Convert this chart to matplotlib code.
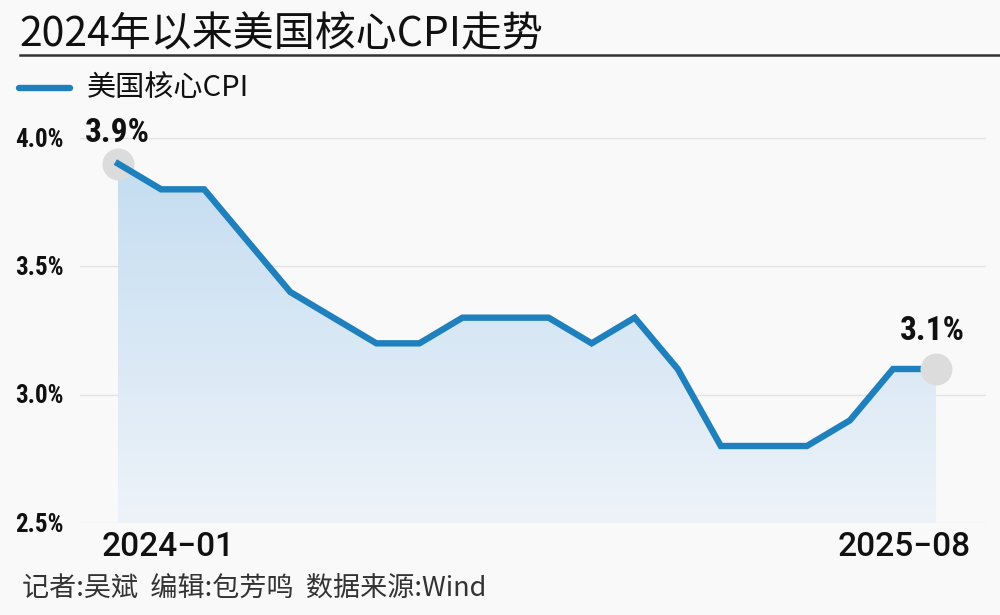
import matplotlib
matplotlib.use("Agg")
import matplotlib.pyplot as plt
import numpy as np
from matplotlib import font_manager as fm
from matplotlib.colors import LinearSegmentedColormap

months = ["2024-01", "2024-02", "2024-03", "2024-04", "2024-05", "2024-06", "2024-07",
          "2024-08", "2024-09", "2024-10", "2024-11", "2024-12", "2025-01", "2025-02",
          "2025-03", "2025-04", "2025-05", "2025-06", "2025-07", "2025-08"]
core_cpi = [3.9, 3.8, 3.8, 3.6, 3.4, 3.3, 3.2, 3.2, 3.3, 3.3, 3.3, 3.2, 3.3, 3.1,
            2.8, 2.8, 2.8, 2.9, 3.1, 3.1]
yticks = [2.5, 3.0, 3.5, 4.0]
ytick_labels = ["2.5%", "3.0%", "3.5%", "4.0%"]
title = "2024年以来美国核心CPI走势"
series_name = "美国核心CPI"
footer = "记者:吴斌  编辑:包芳鸣  数据来源:Wind"

names = {f.name for f in fm.fontManager.ttflist}
narrow = "Roboto"
for cand in ["Roboto Condensed", "Liberation Sans Narrow"]:
    if cand in names:
        narrow = cand
        break
CJK = ["Noto Sans CJK SC", "DejaVu Sans"]

BG = "#f9f9f9"
BLUE = "#1f80be"

fig = plt.figure(figsize=(10, 6.15), dpi=100, facecolor=BG)
ax = fig.add_axes([0.08, 1 - 523 / 615, 0.906, (523 - 138) / 615])
ax.set_facecolor(BG)

x = np.arange(len(core_cpi))
y = np.array(core_cpi)

# gridlines
for v in yticks:
    ax.axhline(v, color="#e3e3e3", lw=1.0, zorder=0)

# gradient fill
poly = ax.fill_between(x, y, 2.5, color="none", lw=0)
cmap = LinearSegmentedColormap.from_list("g", ["#eef3f9", "#c4ddf1"])
grad = np.linspace(0, 1, 256).reshape(-1, 1)
im = ax.imshow(grad, extent=[x[0], x[-1], 2.5, max(core_cpi)], origin="lower",
               cmap=cmap, aspect="auto", zorder=1)
im.set_clip_path(poly.get_paths()[0], transform=ax.transData)
ax.set_xlim(-0.884, 20.16)
ax.set_ylim(2.5, 4.0)

# endpoint circles (first under the line, last over it)
ax.plot([x[0]], [y[0]], "o", ms=23, color="#dcdcdc", zorder=2, clip_on=False, mec="none")
ax.plot(x, y, color=BLUE, lw=4.6, zorder=3, solid_joinstyle="miter", clip_on=False)
ax.plot([x[-1]], [y[-1]], "o", ms=23, color="#dcdcdc", zorder=4, clip_on=False, mec="none")

# annotations
ax.annotate(f"{core_cpi[0]}%", (x[0], y[0]), xytext=(-0.5, 22), textcoords="offset points",
            ha="center", va="center", fontsize=24, fontweight="bold", family=narrow,
            color="#111111")
ax.annotate(f"{core_cpi[-1]}%", (x[-1], y[-1]), xytext=(-3, 27), textcoords="offset points",
            ha="center", va="center", fontsize=24, fontweight="bold", family=narrow,
            color="#111111")

for s in ax.spines.values():
    s.set_visible(False)
ax.set_xticks([])
ax.set_yticks([])

# y tick labels (left aligned)
for v, lab in zip(yticks, ytick_labels):
    fig.text(15 / 1000, ax.transData.transform((0, v))[1] / 615 - 1.5 / 615, lab,
             ha="left", va="center", fontsize=18, fontweight="bold", family=narrow,
             color="#111111")

# x labels
fig.text(102 / 1000, 1 - 547 / 615, months[0].replace("-", "−"), ha="left", va="center",
         fontsize=24, family="Roboto", fontweight="medium", color="#111111")
fig.text(971 / 1000, 1 - 547 / 615, months[-1].replace("-", "−"), ha="right", va="center",
         fontsize=24, family="Roboto", fontweight="medium", color="#111111")

# title
fig.text(19 / 1000, 1 - 35 / 615, title, ha="left", va="center", fontsize=29.5,
         family=CJK, color="#111111")
fig.add_artist(plt.Line2D([20 / 1000, 1.0], [1 - 55 / 615, 1 - 55 / 615],
                          color="#333333", lw=1.8, transform=fig.transFigure))

# legend
fig.add_artist(plt.Line2D([19 / 1000, 70 / 1000], [1 - 88 / 615, 1 - 88 / 615],
                          color=BLUE, lw=4.6, solid_capstyle="round",
                          transform=fig.transFigure))
fig.text(87 / 1000, 1 - 88 / 615, series_name, ha="left", va="center", fontsize=21,
         family=CJK, color="#111111")

# footer
fig.text(22 / 1000, 1 - 588 / 615, footer, ha="left", va="center", fontsize=19.5,
         family=CJK, color="#333333")

fig.savefig("out.png", dpi=100, facecolor=BG)
